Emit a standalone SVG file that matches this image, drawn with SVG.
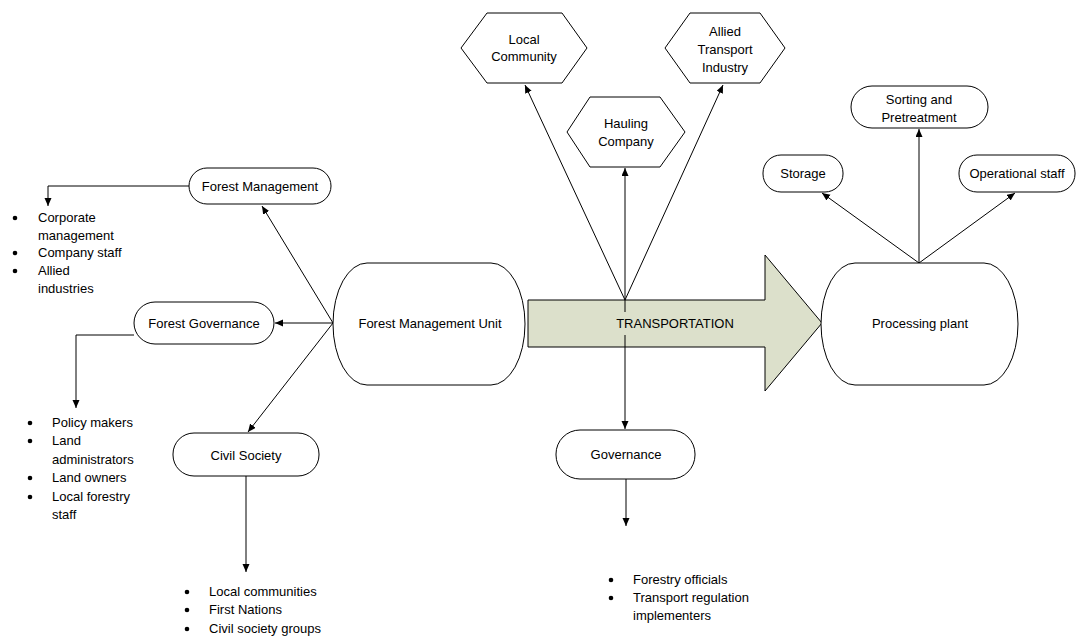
<svg xmlns="http://www.w3.org/2000/svg" width="1082" height="637" viewBox="0 0 1082 637">
<style>
.n{fill:#fff;stroke:#000;stroke-width:1}
.t{font-family:"Liberation Sans",Arial,sans-serif;font-size:13px;fill:#000}
.c{text-anchor:middle}
.l{fill:none;stroke:#000;stroke-width:1}
</style>
<defs>
<marker id="ah" markerUnits="userSpaceOnUse" markerWidth="9" markerHeight="8" refX="8" refY="3.5" orient="auto">
<path d="M0,0 L8,3.5 L0,7 z" fill="#000"/>
</marker>
</defs>
<rect width="1082" height="637" fill="#fff"/>

<g id="transportation">
<path d="M528,300 H765 V255 L822,323 L765,391 V347 H528 Z" fill="#dce0cb" stroke="#000"/>
<text class="t c" x="675" y="328">TRANSPORTATION</text>
</g>

<g id="connectors">
<line class="l" x1="333" y1="323" x2="262" y2="206" marker-end="url(#ah)"/>
<line class="l" x1="333" y1="323" x2="275" y2="323" marker-end="url(#ah)"/>
<line class="l" x1="333" y1="323" x2="248" y2="432" marker-end="url(#ah)"/>
<polyline class="l" points="189,186 48,186 48,206" marker-end="url(#ah)"/>
<polyline class="l" points="134,335 76,335 76,408" marker-end="url(#ah)"/>
<line class="l" x1="246" y1="476" x2="246" y2="572" marker-end="url(#ah)"/>
<line class="l" x1="625" y1="300" x2="525" y2="85" marker-end="url(#ah)"/>
<line class="l" x1="625" y1="300" x2="723" y2="85" marker-end="url(#ah)"/>
<line class="l" x1="625" y1="300" x2="625" y2="168" marker-end="url(#ah)"/>
<line class="l" x1="625" y1="300" x2="625" y2="312"/>
<line class="l" x1="625" y1="335" x2="625" y2="429" marker-end="url(#ah)"/>
<line class="l" x1="626" y1="479" x2="626" y2="526" marker-end="url(#ah)"/>
<line class="l" x1="919" y1="263" x2="822" y2="193" marker-end="url(#ah)"/>
<line class="l" x1="919" y1="263" x2="919" y2="129" marker-end="url(#ah)"/>
<line class="l" x1="919" y1="263" x2="1015" y2="193" marker-end="url(#ah)"/>
</g>

<g id="fmu">
<rect class="n" x="333" y="263" width="192" height="122" rx="34" ry="61"/>
<text class="t c" x="430" y="328">Forest Management Unit</text>
</g>
<g id="processing-plant">
<rect class="n" x="821" y="263" width="197" height="122" rx="34" ry="61"/>
<text class="t c" x="920" y="328">Processing plant</text>
</g>

<g id="forest-management">
<rect class="n" x="189" y="168" width="142" height="36" rx="18"/>
<text class="t c" x="260" y="191">Forest Management</text>
</g>
<g id="forest-governance">
<rect class="n" x="134" y="302" width="140" height="42" rx="21"/>
<text class="t c" x="204" y="328">Forest Governance</text>
</g>
<g id="civil-society">
<rect class="n" x="173" y="433" width="146" height="43" rx="21"/>
<text class="t c" x="246" y="460">Civil Society</text>
</g>

<g id="local-community">
<polygon class="n" points="461,48 487,13 562,13 587,48 562,83 487,83"/>
<text class="t c" x="524" y="44">Local</text>
<text class="t c" x="524" y="61">Community</text>
</g>
<g id="hauling-company">
<polygon class="n" points="567,132 590,97 660,97 685,132 660,167 590,167"/>
<text class="t c" x="626" y="128">Hauling</text>
<text class="t c" x="626" y="146">Company</text>
</g>
<g id="allied-transport">
<polygon class="n" points="665,48 690,13 760,13 785,48 760,83 690,83"/>
<text class="t c" x="725" y="36">Allied</text>
<text class="t c" x="725" y="54">Transport</text>
<text class="t c" x="725" y="72">Industry</text>
</g>
<g id="governance">
<rect class="n" x="556" y="430" width="139" height="49" rx="24"/>
<text class="t c" x="626" y="459">Governance</text>
</g>

<g id="storage">
<rect class="n" x="763" y="155" width="80" height="37" rx="18"/>
<text class="t c" x="803" y="178">Storage</text>
</g>
<g id="sorting">
<rect class="n" x="851" y="86" width="137" height="42" rx="21"/>
<text class="t c" x="919" y="104">Sorting and</text>
<text class="t c" x="919" y="122">Pretreatment</text>
</g>
<g id="operational-staff">
<rect class="n" x="959" y="155" width="116" height="37" rx="18"/>
<text class="t c" x="1017" y="178">Operational staff</text>
</g>

<g id="lists" class="t">
<g fill="#000">
<circle cx="15" cy="218" r="2.3"/><circle cx="15" cy="253" r="2.3"/><circle cx="15" cy="271" r="2.3"/>
<circle cx="30" cy="423" r="2.3"/><circle cx="30" cy="441" r="2.3"/><circle cx="30" cy="478" r="2.3"/><circle cx="30" cy="497" r="2.3"/>
<circle cx="187" cy="592" r="2.3"/><circle cx="187" cy="610" r="2.3"/><circle cx="187" cy="629" r="2.3"/>
<circle cx="611" cy="580" r="2.3"/><circle cx="611" cy="598" r="2.3"/>
</g>
<text class="t" x="38" y="222">Corporate</text>
<text class="t" x="38" y="240">management</text>
<text class="t" x="38" y="257">Company staff</text>
<text class="t" x="38" y="275">Allied</text>
<text class="t" x="38" y="293">industries</text>
<text class="t" x="52" y="427">Policy makers</text>
<text class="t" x="52" y="445">Land</text>
<text class="t" x="52" y="464">administrators</text>
<text class="t" x="52" y="482">Land owners</text>
<text class="t" x="52" y="501">Local forestry</text>
<text class="t" x="52" y="519">staff</text>
<text class="t" x="209" y="596">Local communities</text>
<text class="t" x="209" y="614">First Nations</text>
<text class="t" x="209" y="633">Civil society groups</text>
<text class="t" x="633" y="584">Forestry officials</text>
<text class="t" x="633" y="602">Transport regulation</text>
<text class="t" x="633" y="620">implementers</text>
</g>
</svg>
